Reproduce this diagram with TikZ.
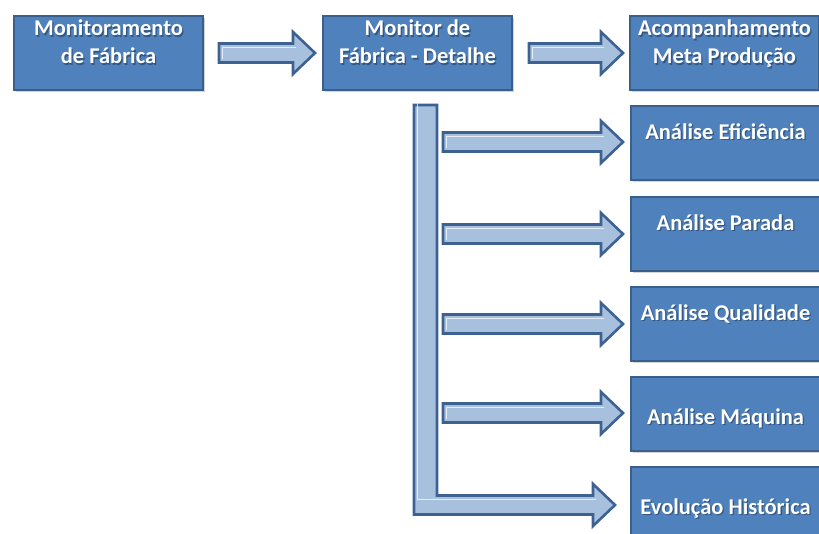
\documentclass[tikz,border=0pt]{standalone}
\usepackage{fontspec}
\setmainfont{Carlito}
\usetikzlibrary{calc,shadows}
\definecolor{boxblue}{HTML}{4F81BD}
\definecolor{boxedge}{HTML}{3A5F8B}
\definecolor{arrowfill}{HTML}{A7C0DE}
\definecolor{arrowedge}{HTML}{3D6292}
\definecolor{textshade}{HTML}{1F3550}
\tikzset{
  box/.style={draw=boxedge, line width=2pt, fill=boxblue, rectangle,
    anchor=north west, minimum width=189pt, minimum height=74pt, inner sep=0pt,
    drop shadow={shadow xshift=1.5pt, shadow yshift=-1.5pt, opacity=0.35}},
  boxtext/.style={text=white, font=\bfseries\fontsize{22.5}{28}\selectfont,
    align=center, inner sep=0pt, anchor=north},
  shadetext/.style={boxtext, text=textshade, opacity=0.55},
  arrowbody/.style={draw=arrowedge, line width=2.6pt, fill=arrowfill, line join=miter},
  highlight/.style={draw=white, line width=0.9pt, opacity=0.7}
}
% text label inside a box: #1 box name, #2 offset below its top, #3 text
\newcommand{\boxlabel}[3]{%
  \node[shadetext] at ($(#1.north)+(1.3pt,-#2-1.3pt)$) {#3};
  \node[boxtext] (#1-label) at ($(#1.north)+(0pt,-#2)$) {#3};}
% horizontal block arrow from coordinate #1 to coordinate #2 (tip)
\newcommand{\blockarrow}[2]{%
  \draw[arrowbody] let \p1=(#1), \p2=(#2) in
    (\x1,\y1+9.5pt) -- (\x2-22pt,\y1+9.5pt) -- (\x2-22pt,\y1+21pt) -- (\x2,\y1)
    -- (\x2-22pt,\y1-21pt) -- (\x2-22pt,\y1-9.5pt) -- (\x1,\y1-9.5pt) -- cycle;
  \draw[highlight] let \p1=(#1), \p2=(#2) in
    (\x1+3pt,\y1-6pt) -- (\x1+3pt,\y1+6pt) -- (\x2-19pt,\y1+6pt);}
\begin{document}
\begin{tikzpicture}[x=1pt,y=-1pt]
\useasboundingbox (0,0) rectangle (819,533);
\clip (0,0) rectangle (819,533);

% top row
\node[box] (fab) at (13,15) {};
\node[box] (det) at (322,15) {};
\node[box] (meta) at (629,15) {};
% analysis column
\node[box] (efi) at (630,105) {};
\node[box] (par) at (630,196) {};
\node[box] (qua) at (630,286) {};
\node[box] (maq) at (630,376) {};
\node[box] (evo) at (630,466) {};

\boxlabel{fab}{5pt}{Monitoramento\\de Fábrica}
\boxlabel{det}{5pt}{Monitor de\\Fábrica - Detalhe}
\boxlabel{meta}{5pt}{Acompanhamento\\Meta Produção}
\boxlabel{efi}{18.5pt}{Análise Eficiência}
\boxlabel{par}{18.5pt}{Análise Parada}
\boxlabel{qua}{18.5pt}{Análise Qualidade}
\boxlabel{maq}{32.5pt}{Análise Máquina}
\boxlabel{evo}{32.5pt}{Evolução Histórica}

% arrows along the top row
\coordinate (a1s) at ($(fab.east)+(15pt,0)$);
\coordinate (a1e) at ($(det.west)+(-7pt,0)$);
\blockarrow{a1s}{a1e}
\coordinate (a2s) at ($(det.east)+(16pt,0)$);
\coordinate (a2e) at ($(meta.west)+(-6pt,0)$);
\blockarrow{a2s}{a2e}

% vertical trunk turning into the arrow to the last box
\coordinate (trunk) at (425.5,105);
\coordinate (evotip) at ($(evo.west)+(-15pt,0)+(0,-1pt)$);
\draw[arrowbody] let \p1=(trunk), \p2=(evotip) in
  (\x1-11.5pt,\y1) -- (\x1+11.5pt,\y1) -- (\x1+11.5pt,\y2+9.5pt)
  -- (\x2-22pt,\y2+9.5pt) -- (\x2-22pt,\y2+21pt) -- (\x2,\y2)
  -- (\x2-22pt,\y2-21pt) -- (\x2-22pt,\y2-9.5pt) -- (\x1-11.5pt,\y2-9.5pt) -- cycle;
\draw[highlight] let \p1=(trunk), \p2=(evotip) in
  (\x1-8pt,\y1+3pt) -- (\x1-8pt,\y2+6pt) -- (\x2-19pt,\y2+6pt);

% branch arrows from the trunk
\foreach \b/\dy in {efi/1, par/0, qua/0, maq/1}{
  \coordinate (\b-s) at ($(trunk |- \b.west)+(17.5pt,\dy pt)$);
  \coordinate (\b-e) at ($(\b.west)+(-7pt,\dy pt)$);
  \blockarrow{\b-s}{\b-e}
}
\end{tikzpicture}
\end{document}
